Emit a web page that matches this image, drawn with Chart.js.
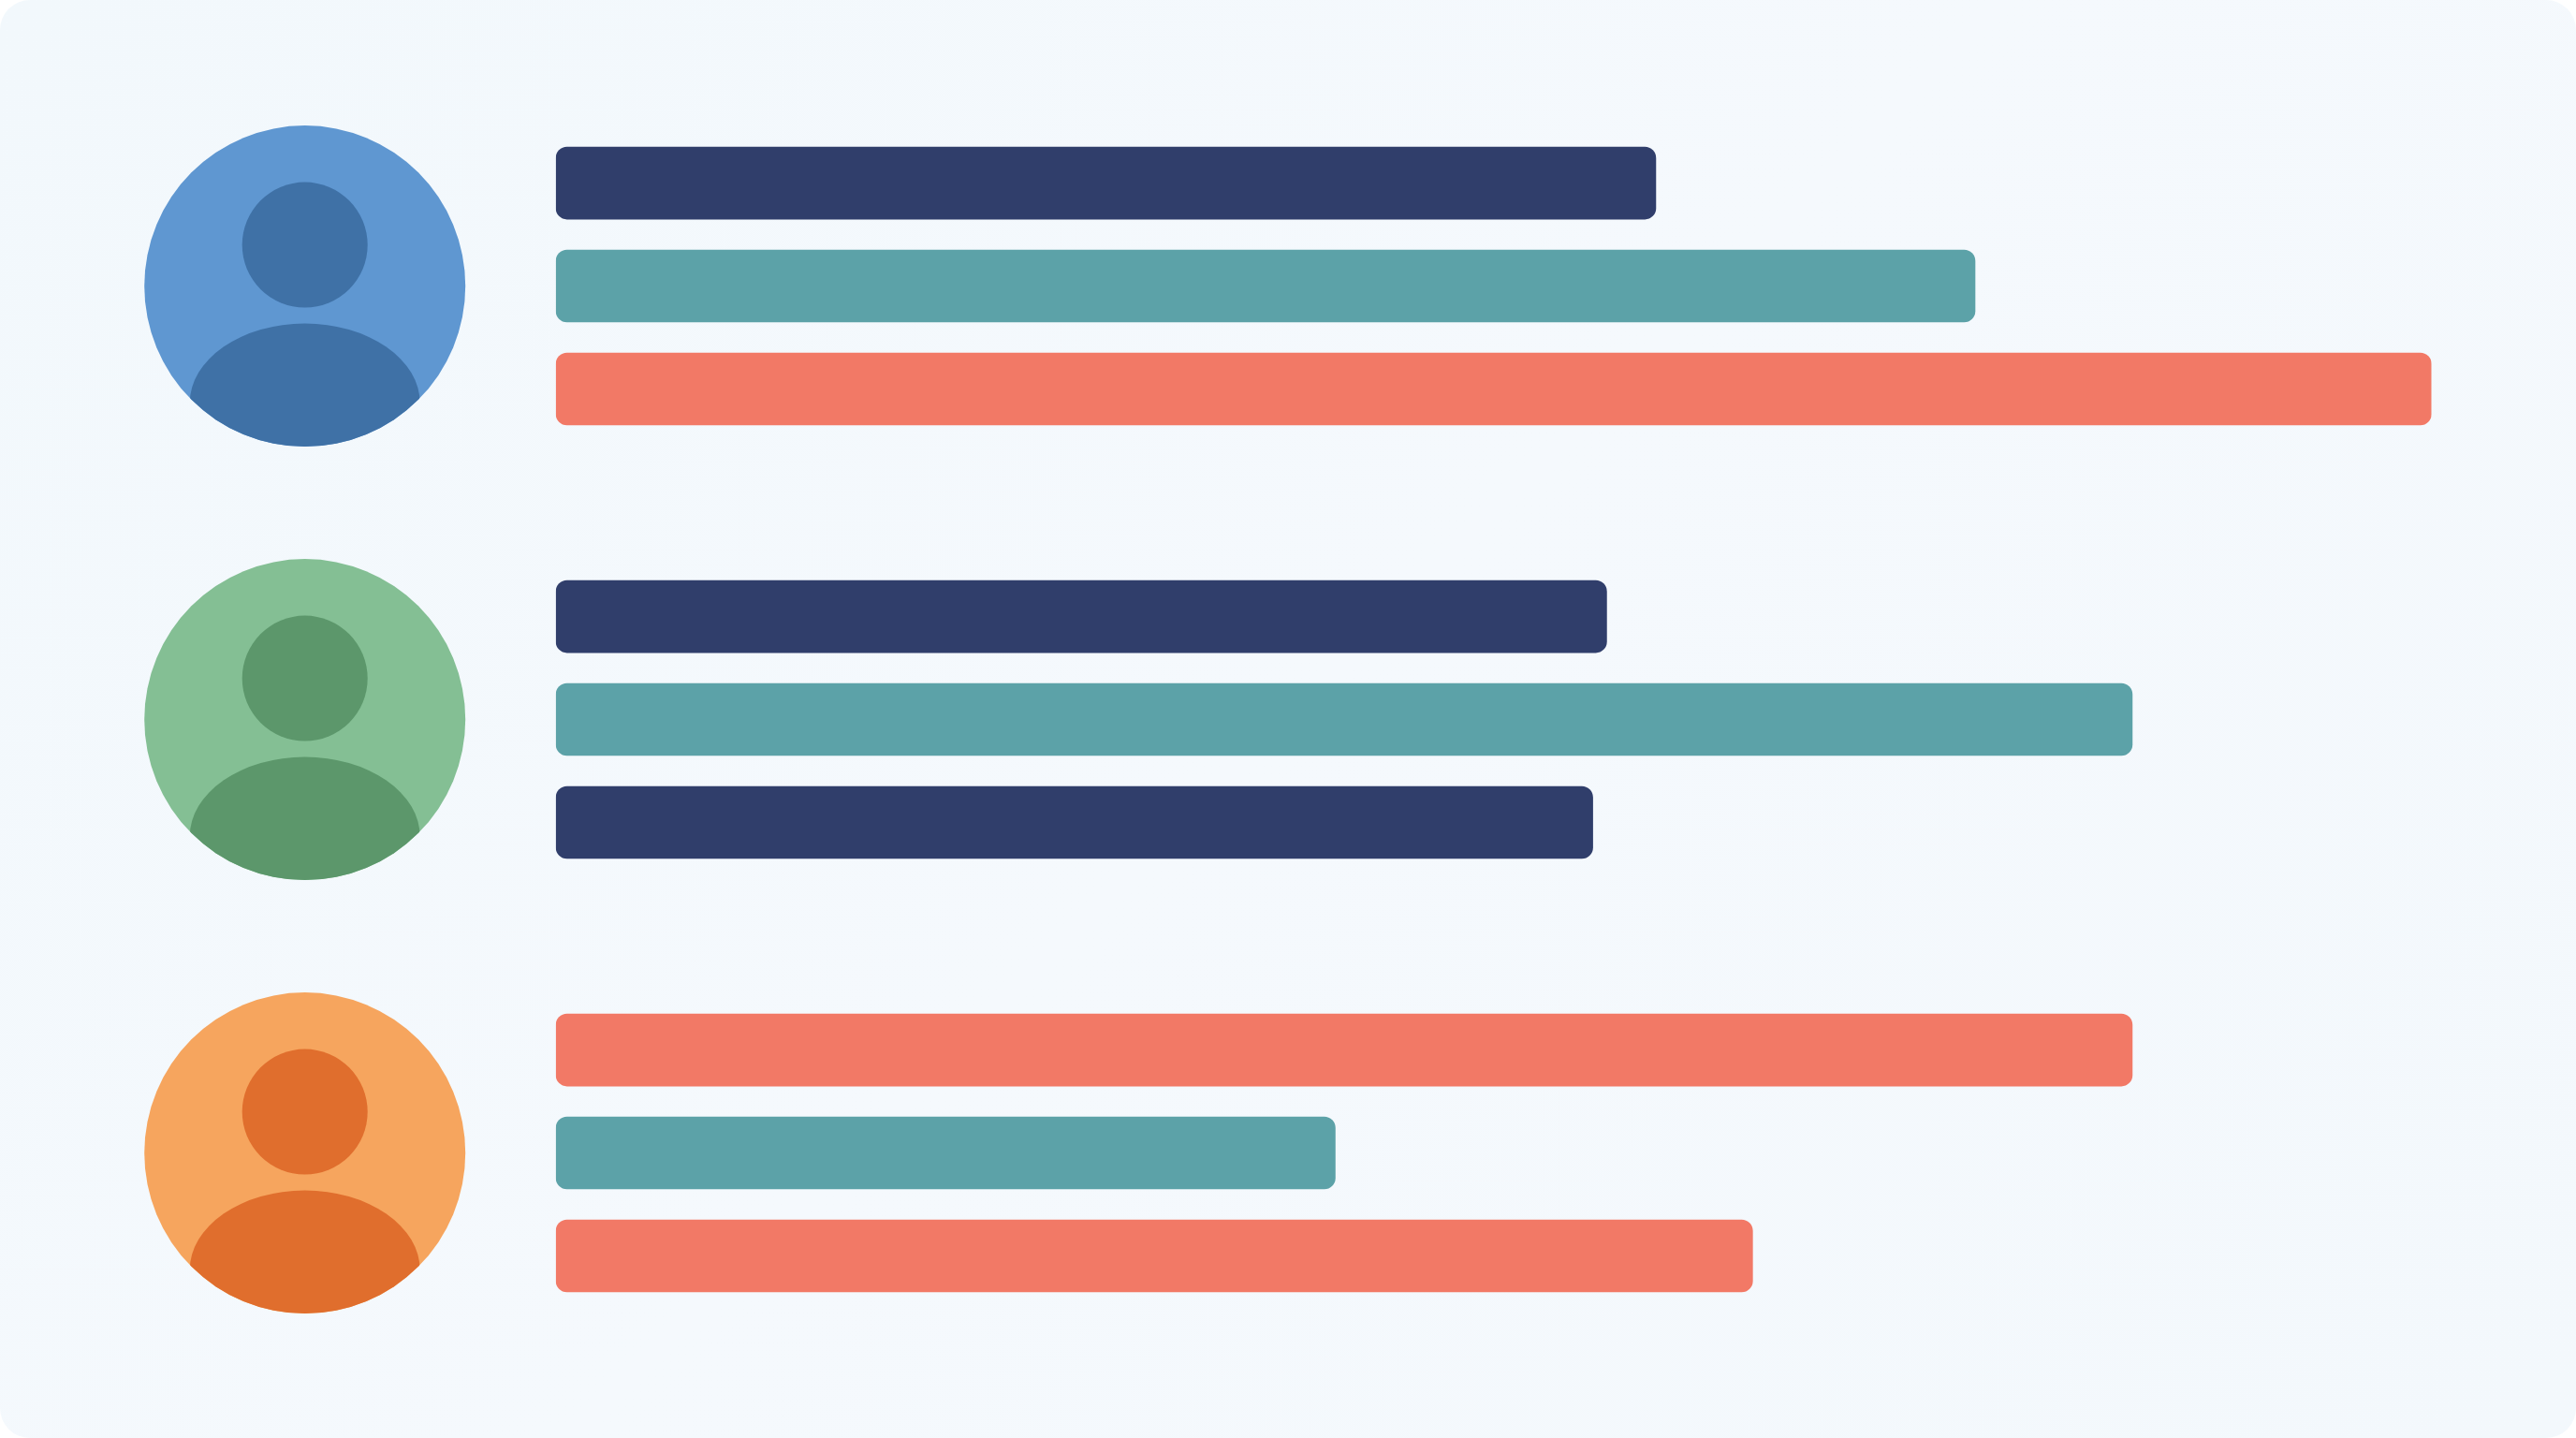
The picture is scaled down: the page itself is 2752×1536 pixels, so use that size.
<html>
  <head>
    <title>People Bars</title>
    <script src="https://cdn.jsdelivr.net/npm/chart.js"></script>
    <style type="text/css">
      html, body { width: 100%; height: 100%; margin: 0; padding: 0; background: #ffffff; overflow: hidden; }
      /* panel behind the chart, the corners stay white */
      #panel {
        width: 2752px; height: 1536px; border-radius: 32px; overflow: hidden;
        background: linear-gradient(135deg, #f2f8fc 0%, #f5f9fd 50%, #f3f8fc 100%);
      }
      canvas { display: block; }
    </style>
  </head>
  <body>
    <div id="panel"><canvas id="barChart" width="2752" height="1536"></canvas></div>
    <script>
      // Data, share of the longest bar
      var people = ['Blue', 'Green', 'Orange'];
      var firstBar = [58.66, 56.04, 84.06];
      var secondBar = [75.68, 84.06, 41.57];
      var thirdBar = [100, 55.3, 63.82];

      // Colours
      var navy = '#303e6b';
      var teal = '#5ca2a8';
      var coral = '#f27966';
      var firstColors = [navy, navy, coral];
      var secondColors = [teal, teal, teal];
      var thirdColors = [coral, navy, coral];
      var avatarLight = ['#5f97d1', '#84bf94', '#f6a55e'];
      var avatarDark = ['#3f71a6', '#5c976b', '#e06e2d'];

      // Draws the avatar in front of each group of bars
      var avatars = {
        id: 'avatars',
        afterDatasetsDraw: function(chart) {
          var ctx = chart.ctx;
          var cx = chart.chartArea.left - 268;
          people.forEach(function(name, i) {
            var cy = chart.scales.y.getPixelForValue(i);
            ctx.save();
            ctx.beginPath();
            ctx.arc(cx, cy, 171.5, 0, Math.PI * 2);
            ctx.fillStyle = avatarLight[i];
            ctx.fill();
            ctx.clip();
            ctx.fillStyle = avatarDark[i];
            ctx.beginPath();
            ctx.arc(cx, cy - 44, 67, 0, Math.PI * 2);
            ctx.fill();
            ctx.beginPath();
            ctx.ellipse(cx, cy + 125, 123, 85, 0, 0, Math.PI * 2);
            ctx.fill();
            ctx.restore();
          });
        }
      };

      function barSet(label, values, colors) {
        return {
          label: label,
          data: values,
          backgroundColor: colors,
          borderRadius: 12,
          borderSkipped: false,
          inflateAmount: 0,
          categoryPercentage: 0.7127,
          barPercentage: 0.705
        };
      }

      var barCtx = document.getElementById('barChart').getContext('2d');
      var barChart = new Chart(barCtx, {
        type: 'bar',
        data: {
          labels: people,
          datasets: [
            barSet('First', firstBar, firstColors),
            barSet('Second', secondBar, secondColors),
            barSet('Third', thirdBar, thirdColors)
          ]
        },
        plugins: [avatars],
        options: {
          indexAxis: 'y',
          responsive: false,
          animation: false,
          devicePixelRatio: 1,
          layout: { padding: { left: 593.7, right: 154.3, top: 74.1, bottom: 72.9 } },
          plugins: { legend: { display: false }, tooltip: { enabled: false } },
          scales: {
            x: { display: false, min: 0, max: 100 },
            y: { display: false }
          }
        }
      });
    </script>
  </body>
</html>
